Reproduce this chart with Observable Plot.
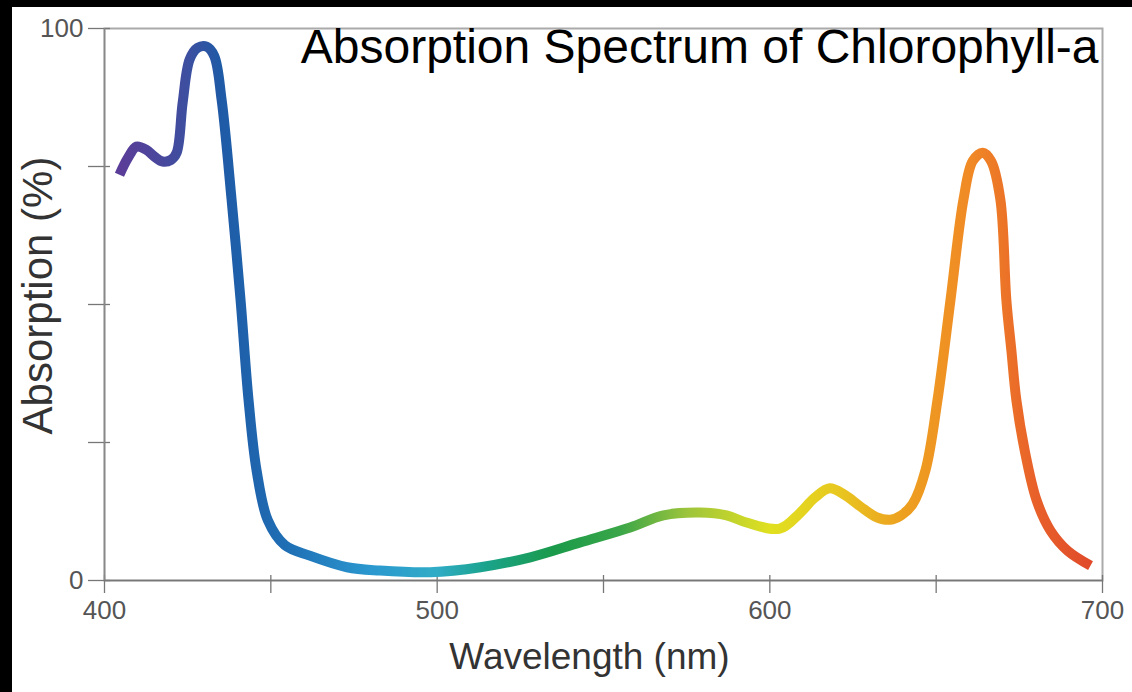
<!DOCTYPE html>
<html>
<head>
<meta charset="utf-8">
<script src="https://cdn.jsdelivr.net/npm/d3@7"></script>
<script src="https://cdn.jsdelivr.net/npm/@observablehq/plot@0.6"></script>
<style>
  html, body { margin: 0; padding: 0; background: #fff; }
  #frame { width: 1120px; height: 685px; border-top: 7px solid #000; border-left: 12px solid #000; background: #fff; }
  svg { font-family: "Liberation Sans", Arial, sans-serif; }
</style>
</head>
<body>
<div id="frame"></div>
<script>
// ---- data ----
const wavelength = [404.5, 407, 409.6, 412.6, 415, 417.5, 420, 421.7, 423.5, 425.6, 428, 430.7, 433, 435.2,
  438.2, 440.9, 443.3, 445.7, 449.1, 454.2, 461.7, 472.9, 482.8, 497.9, 513, 528, 543, 558, 568, 579,
  587, 593, 603, 609, 613.5, 618, 622.5, 627, 632, 636.2, 639.5, 642.9, 646.8, 650.4, 654.3, 658.2, 661,
  664, 666.5, 669.3, 671.1, 672.6, 674.1, 676.6, 680.2, 684.4, 689.5, 696.4];
const absorption = [73.5, 76.5, 78.6, 78, 76.8, 75.9, 76.2, 77.5, 86.6, 94.4, 96.5, 96.7, 95, 87.1,
  69, 50.8, 32.7, 20, 10.9, 6.4, 4.5, 2.4, 1.8, 1.5, 2.4, 4.2, 6.9, 9.6, 11.8, 12.3,
  11.8, 10.5, 9.4, 12.2, 15, 16.7, 15.5, 13.5, 11.5, 11, 11.8, 13.8, 20, 32.7, 50.8, 69, 76,
  77.5, 76, 69, 50.8, 41.7, 32.7, 23.6, 14.5, 9, 5.4, 2.7];

const xMajorTicks = [400, 500, 600, 700];
const xAllTicks = [400, 450, 500, 550, 600, 650, 700];
const yMajorTicks = [0, 100];
const yAllTicks = [0, 25, 50, 75, 100];

const titleText = "Absorption Spectrum of Chlorophyll-a";
const xLabel = "Wavelength (nm)";
const yLabel = "Absorption (%)";

// spectral colouring of the curve (wavelength -> colour)
const stopWavelengths = [405, 425, 435, 455, 480, 500, 515, 535, 555, 575, 600, 620, 640, 660, 680, 697];
const stopColors = ["#5a3d98", "#3d4fa0", "#1f5aa6", "#1f6fb5", "#2b98cf", "#30acc6", "#1aa38a", "#1a9a4a",
  "#3aa648", "#9cc43c", "#e0e020", "#e8c820", "#eda020", "#f08a25", "#e8602a", "#e04a2a"];

const data = wavelength.map((w, i) => ({w, a: absorption[i]}));

function spectrumDefs(index, scales) {
  const x = scales.x;
  const defs = d3.create("svg:defs");
  const g = defs.append("linearGradient")
    .attr("id", "spectrum")
    .attr("gradientUnits", "userSpaceOnUse")
    .attr("x1", x(400)).attr("x2", x(700))
    .attr("y1", 0).attr("y2", 0);
  stopWavelengths.forEach((w, i) => {
    g.append("stop").attr("offset", (x(w) - x(400)) / (x(700) - x(400))).attr("stop-color", stopColors[i]);
  });
  return defs.node();
}

const plot = Plot.plot({
  width: 1120,
  height: 685,
  marginLeft: 92,
  marginRight: 30,
  marginTop: 21,
  marginBottom: 112,
  style: {background: "#fff", fontFamily: "Liberation Sans, Arial, sans-serif"},
  x: {domain: [400, 700], label: null},
  y: {domain: [0, 100], label: null},
  marks: [
    spectrumDefs,
    Plot.frame({stroke: "#aaa", strokeWidth: 2}),
    // ticks crossing the axes
    Plot.axisX({ticks: xAllTicks, tickSize: 18, dy: -5, tickFormat: () => "", stroke: "#777", strokeWidth: 1.3, label: null}),
    Plot.axisY({ticks: yAllTicks, tickSize: 22, dx: 6, tickFormat: () => "", stroke: "#777", strokeWidth: 1.3, label: null}),
    // tick labels
    Plot.axisX({ticks: xMajorTicks, tickSize: 0, tickPadding: 20, fontSize: 26, fill: "#555", label: null}),
    Plot.axisY({ticks: yMajorTicks, tickSize: 0, tickPadding: 21, fontSize: 26, fill: "#555", label: null}),
    Plot.ruleY([0], {stroke: "#777", strokeWidth: 1.5}),
    Plot.ruleX([400], {stroke: "#888", strokeWidth: 1.5}),
    Plot.line(data, {x: "w", y: "a", curve: "catmull-rom", stroke: "url(#spectrum)", strokeWidth: 10,
      strokeLinecap: "butt", strokeLinejoin: "round"}),
    Plot.text([titleText], {frameAnchor: "top-right", textAnchor: "end", lineAnchor: "top", dx: -4, dy: 0,
      fontSize: 48, fill: "#000"}),
    Plot.text([yLabel], {frameAnchor: "left", textAnchor: "middle", rotate: -90, dx: -66, dy: -9, fontSize: 42, fill: "#333"}),
    Plot.text([xLabel], {frameAnchor: "bottom", lineAnchor: "middle", dx: -14, dy: 77, fontSize: 37, fill: "#333"})
  ]
});
document.getElementById("frame").appendChild(plot);
</script>
</body>
</html>
